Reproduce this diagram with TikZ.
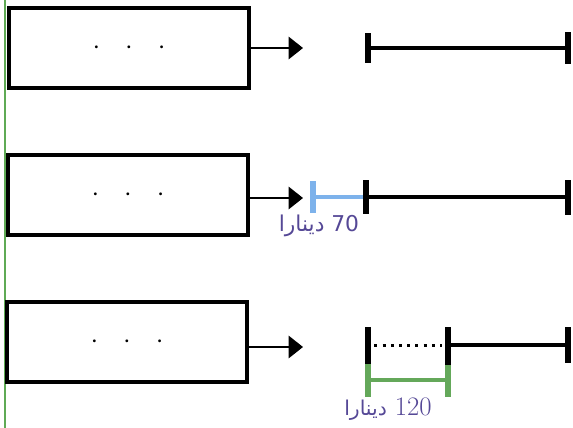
\documentclass[tikz,border=0pt]{standalone}
\usepackage{fontspec}
\usetikzlibrary{arrows.meta}
\TeXXeTstate=1
\newfontfamily\arabicfont[Script=Arabic]{DejaVu Sans}
\definecolor{edgegreen}{RGB}{95,170,85}
\definecolor{barblue}{RGB}{125,178,235}
\definecolor{bargreen}{RGB}{100,168,90}
\definecolor{pricepurple}{RGB}{85,72,150}
\tikzset{
	box/.style={draw, line width=1.1mm, minimum width=6cm, minimum height=2cm, inner sep=0pt, font=\fontsize{7}{8}\selectfont},
	feed/.style={line width=0.5mm, -{Triangle[length=3.6mm,width=5.6mm]}},
	bar/.style={line width=1mm},
	tickmark/.style={line width=1.3mm},
	price/.style={text=pricepurple, inner sep=0pt}
}

\begin{document}
\begin{tikzpicture}[x=0.025cm, y=-0.025cm]
			%%%%% START %%%%%
			\useasboundingbox (0, 0) rectangle (573, 428);
			
			\draw[line width=0.6mm, color=edgegreen] (5, 0) -- (5, 428);
			
			% the three boxes
			\node[box] (boxa) at (129, 48) {\textbullet\hspace{6mm}\textbullet\hspace{6mm}\textbullet};
			\node[box] (boxb) at (128, 195) {\textbullet\hspace{6mm}\textbullet\hspace{6mm}\textbullet};
			\node[box] (boxc) at (127, 342) {\textbullet\hspace{6mm}\textbullet\hspace{6mm}\textbullet};
			
			\coordinate (tipa) at (303, 48);
			\coordinate (tipb) at (303, 198);
			\coordinate (tipc) at (303, 347);
			\draw[feed] (boxa.east |- tipa) -- (tipa);
			\draw[feed] (boxb.east |- tipb) -- (tipb);
			\draw[feed] (boxc.east |- tipc) -- (tipc);
			
			% first line
			\coordinate (la) at (368, 48);
			\coordinate (ra) at (568, 48);
			\draw[bar] (la) -- (ra);
			\draw[tickmark] (368, 33) -- (368, 63);
			\draw[tickmark] (568, 32) -- (568, 64);
			
			% second line
			\coordinate (ub) at (313, 197);
			\coordinate (lb) at (366, 197);
			\coordinate (rb) at (568, 197);
			\draw[bar, color=barblue] (ub) -- (lb);
			\draw[tickmark, color=barblue] (313, 181) -- (313, 213);
			\draw[bar] (lb) -- (rb);
			\draw[tickmark] (366, 180) -- (366, 214);
			\draw[tickmark] (568, 180) -- (568, 215);
			\node[price] (pb) at (319, 226) {\arabicfont\fontsize{15.5}{18}\selectfont\beginR\beginL 70\endL{} دينارا\endR};
			
			% third line
			\coordinate (lc) at (368, 345);
			\coordinate (mc) at (448, 345);
			\coordinate (rc) at (568, 345);
			\draw[line width=0.75mm, dash pattern=on 0.75mm off 1.3mm] ([xshift=1.6mm]lc) -- ([xshift=-1.4mm]mc);
			\draw[bar] (mc) -- (rc);
			\draw[tickmark] (368, 327) -- (368, 364);
			\draw[tickmark] (448, 327) -- (448, 365);
			\draw[tickmark] (568, 327) -- (568, 363);
			\coordinate (gl) at (368, 380);
			\coordinate (gr) at (448, 380);
			\draw[bar, color=bargreen] (gl) -- (gr);
			\draw[tickmark, color=bargreen] (368, 364) -- (368, 397);
			\draw[tickmark, color=bargreen] (448, 365) -- (448, 397);
			\node[price] (pc) at (388, 409) {\fontsize{19}{21}\selectfont\beginR\beginL 120\endL{} {\arabicfont\fontsize{14.5}{17}\selectfont دينارا}\endR};
			
			%%%%% END %%%%%
\end{tikzpicture}
\end{document}
